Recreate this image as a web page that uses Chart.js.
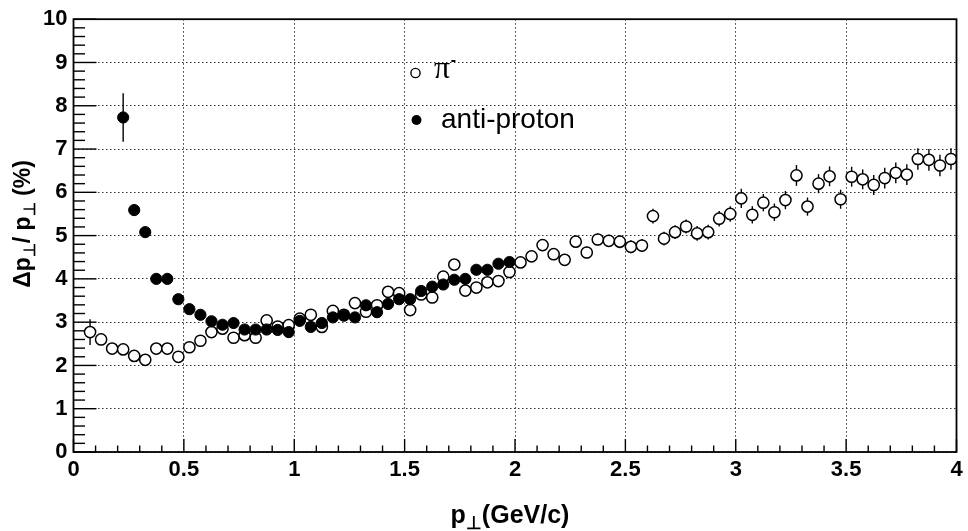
<!DOCTYPE html>
<html><head><meta charset="utf-8">
<script src="https://cdn.jsdelivr.net/npm/chart.js@4.4.0/dist/chart.umd.min.js"></script>
<style>html,body{margin:0;padding:0;background:#fff;}canvas{display:block}</style>
</head><body>
<canvas id="c" width="968" height="531"></canvas>
<script>
// ---- data ----
const pionPt = [0.075,0.125,0.175,0.225,0.275,0.325,0.375,0.425,0.475,0.525,0.575,0.625,0.675,0.725,0.775,0.825,0.875,0.925,0.975,
  1.025,1.075,1.125,1.175,1.225,1.275,1.325,1.375,1.425,1.475,1.525,1.575,1.625,1.675,1.725,1.775,1.825,1.875,1.925,1.975,
  2.025,2.075,2.125,2.175,2.225,2.275,2.325,2.375,2.425,2.475,2.525,2.575,2.625,2.675,2.725,2.775,2.825,2.875,2.925,2.975,
  3.025,3.075,3.125,3.175,3.225,3.275,3.325,3.375,3.425,3.475,3.525,3.575,3.625,3.675,3.725,3.775,3.825,3.875,3.925,3.975];
const pionRes = [2.77,2.60,2.39,2.37,2.22,2.13,2.39,2.39,2.20,2.42,2.57,2.77,2.85,2.64,2.70,2.64,3.04,2.90,2.93,
  3.08,3.17,2.89,3.26,3.17,3.44,3.24,3.39,3.70,3.67,3.28,3.64,3.57,4.05,4.33,3.73,3.80,3.92,3.95,4.16,
  4.38,4.52,4.78,4.57,4.44,4.86,4.61,4.91,4.88,4.86,4.74,4.77,5.45,4.93,5.08,5.21,5.05,5.08,5.39,5.50,
  5.86,5.48,5.76,5.54,5.82,6.39,5.67,6.20,6.37,5.84,6.36,6.30,6.17,6.33,6.45,6.41,6.77,6.75,6.62,6.77];
const pionErr = [0.30,0.10,0.09,0.09,0.09,0.09,0.09,0.09,0.09,0.09,0.09,0.09,0.09,0.09,0.09,0.09,0.09,0.09,0.09,
  0.10,0.10,0.10,0.10,0.10,0.10,0.10,0.10,0.10,0.10,0.10,0.10,0.10,0.11,0.11,0.11,0.11,0.11,0.11,0.12,
  0.12,0.12,0.13,0.13,0.13,0.14,0.14,0.14,0.14,0.15,0.15,0.15,0.17,0.16,0.16,0.16,0.17,0.17,0.18,0.18,
  0.22,0.20,0.20,0.20,0.21,0.24,0.21,0.22,0.23,0.22,0.23,0.23,0.23,0.24,0.24,0.24,0.25,0.25,0.25,0.25];
const pbarPt = [0.225,0.275,0.325,0.375,0.425,0.475,0.525,0.575,0.625,0.675,0.725,0.775,0.825,0.875,0.925,0.975,
  1.025,1.075,1.125,1.175,1.225,1.275,1.325,1.375,1.425,1.475,1.525,1.575,1.625,1.675,1.725,1.775,1.825,1.875,1.925,1.975];
const pbarRes = [7.73,5.59,5.08,4.00,4.00,3.53,3.30,3.17,3.02,2.94,2.98,2.83,2.83,2.83,2.82,2.77,
  3.03,2.89,2.98,3.11,3.15,3.11,3.39,3.23,3.42,3.53,3.53,3.72,3.82,3.87,3.98,4.00,4.21,4.21,4.35,4.39];
const pbarErr = [0.56,0.13,0.09,0.08,0.08,0.07,0.07,0.07,0.07,0.07,0.07,0.07,0.07,0.07,0.07,0.07,
  0.07,0.07,0.07,0.07,0.07,0.07,0.07,0.07,0.07,0.07,0.07,0.07,0.07,0.07,0.07,0.07,0.07,0.07,0.07,0.07];
const seriesNames = ['π', 'anti-proton'];
const xTitle = ['p', '⊥', '(GeV/c)'];
const yTitle = ['Δp', '⊥', '/ p', '⊥', ' (%)'];
const xRange = [0, 4], yRange = [0, 10];

// ---- helpers ----
const near = (v, s) => Math.abs(v / s - Math.round(v / s)) < 1e-6;
const FONT = '"Liberation Sans", Arial, sans-serif';

const errorBars = {
  id: 'errorBars',
  beforeDatasetsDraw(chart) {
    const ctx = chart.ctx, xs = chart.scales.x, ys = chart.scales.y;
    ctx.save();
    ctx.strokeStyle = '#000'; ctx.lineWidth = 1.4;
    chart.data.datasets.forEach(ds => {
      ds.data.forEach(p => {
        const px = xs.getPixelForValue(p.x);
        ctx.beginPath();
        ctx.moveTo(px, ys.getPixelForValue(p.y - p.e));
        ctx.lineTo(px, ys.getPixelForValue(p.y + p.e));
        ctx.stroke();
      });
    });
    ctx.restore();
  }
};

function drawPieces(ctx, pieces, x, y, size) {
  let cx = x;
  pieces.forEach(([t, sub]) => {
    ctx.font = 'bold ' + (sub ? Math.round(size * 0.7) : size) + 'px ' + FONT;
    ctx.fillText(t, cx, sub ? y + size * 0.22 : y);
    cx += ctx.measureText(t).width;
  });
  return cx - x;
}
function widthPieces(ctx, pieces, size) {
  let w = 0;
  pieces.forEach(([t, sub]) => {
    ctx.font = 'bold ' + (sub ? Math.round(size * 0.7) : size) + 'px ' + FONT;
    w += ctx.measureText(t).width;
  });
  return w;
}

const frame = {
  id: 'frame',
  afterDraw(chart) {
    const { ctx, chartArea: a, scales: { x, y } } = chart;
    ctx.save();
    ctx.strokeStyle = '#000';
    ctx.lineWidth = 1.4;
    x.ticks.forEach(t => {
      const px = x.getPixelForValue(t.value);
      const L = near(t.value, 0.5) ? 13 : 6.5;
      ctx.beginPath(); ctx.moveTo(px, a.bottom); ctx.lineTo(px, a.bottom - L); ctx.stroke();
    });
    y.ticks.forEach(t => {
      const py = y.getPixelForValue(t.value);
      const L = near(t.value, 1) ? 23 : 11.5;
      ctx.beginPath(); ctx.moveTo(a.left, py); ctx.lineTo(a.left + L, py); ctx.stroke();
    });
    ctx.lineWidth = 1.8;
    ctx.strokeRect(a.left, a.top, a.right - a.left, a.bottom - a.top);

    // axis titles
    ctx.fillStyle = '#000';
    ctx.textBaseline = 'alphabetic';
    ctx.textAlign = 'left';
    const xp = [[xTitle[0], false], [xTitle[1], true], [xTitle[2], false]];
    const wx = widthPieces(ctx, xp, 25);
    drawPieces(ctx, xp, 510 - wx / 2, 523, 25);

    const yp = [[yTitle[0], false], [yTitle[1], true], [yTitle[2], false], [yTitle[3], true], [yTitle[4], false]];
    const wy = widthPieces(ctx, yp, 23);
    ctx.save();
    ctx.translate(30, 224);
    ctx.rotate(-Math.PI / 2);
    drawPieces(ctx, yp, -wy / 2, 0, 23);
    ctx.restore();

    // legend
    ctx.lineWidth = 1.4;
    ctx.beginPath(); ctx.arc(415.5, 73, 4.6, 0, Math.PI * 2);
    ctx.fillStyle = '#fff'; ctx.fill(); ctx.stroke();
    ctx.fillStyle = '#000';
    ctx.font = '32px "Liberation Serif", "DejaVu Serif", serif';
    ctx.fillText(seriesNames[0], 434, 78);
    const pw = ctx.measureText(seriesNames[0]).width;
    ctx.font = 'bold 16px "Liberation Sans", sans-serif';
    ctx.fillText('-', 434 + pw + 0.5, 65);
    ctx.beginPath(); ctx.arc(416.5, 120, 5, 0, Math.PI * 2); ctx.fill();
    ctx.font = '28px ' + FONT;
    ctx.fillText(seriesNames[1], 441, 128);
    ctx.restore();
  }
};

const gridColor = step => c => (c.tick && near(c.tick.value, step)) ? '#333' : 'rgba(0,0,0,0)';

new Chart(document.getElementById('c'), {
  type: 'scatter',
  data: {
    datasets: [
      {
        label: 'anti-proton',
        data: pbarPt.map((v, i) => ({ x: v, y: pbarRes[i], e: pbarErr[i] })),
        pointStyle: 'circle', pointRadius: 5.6, pointHoverRadius: 5.6,
        backgroundColor: '#000', borderColor: '#000', borderWidth: 1, order: 0
      },
      {
        label: 'pi-',
        data: pionPt.map((v, i) => ({ x: v, y: pionRes[i], e: pionErr[i] })),
        pointStyle: 'circle', pointRadius: 5.6, pointHoverRadius: 5.6,
        backgroundColor: '#fff', borderColor: '#000', borderWidth: 1.5, order: 1
      }
    ]
  },
  options: {
    responsive: false, animation: false, devicePixelRatio: 1,
    layout: { padding: { top: 11, right: 11.5, left: 0, bottom: 0 } },
    plugins: { legend: { display: false }, tooltip: { enabled: false } },
    scales: {
      x: {
        type: 'linear', min: xRange[0], max: xRange[1],
        afterFit: s => { s.height = 79; },
        ticks: {
          stepSize: 0.1, autoSkip: false, maxRotation: 0, padding: 5, color: '#000',
          font: { family: FONT, size: 22, weight: 'bold' },
          callback: v => near(v, 0.5) ? String(Math.round(v * 2) / 2) : ''
        },
        grid: { color: gridColor(0.5), lineWidth: 1, drawTicks: false },
        border: { display: false, dash: [1.5, 2.5] }
      },
      y: {
        type: 'linear', min: yRange[0], max: yRange[1],
        afterFit: s => { s.width = 73.5; },
        ticks: {
          stepSize: 0.2, autoSkip: false, padding: 6, color: '#000',
          font: { family: FONT, size: 22, weight: 'bold' },
          callback: v => near(v, 1) ? String(Math.round(v)) : ''
        },
        grid: { color: gridColor(1), lineWidth: 1, drawTicks: false },
        border: { display: false, dash: [1.5, 2.5] }
      }
    }
  },
  plugins: [errorBars, frame]
});
</script>
</body></html>
